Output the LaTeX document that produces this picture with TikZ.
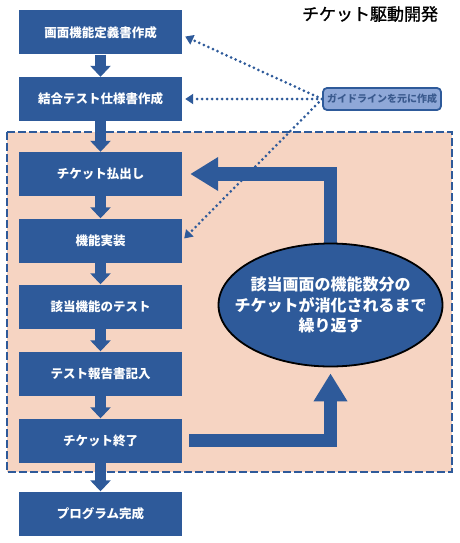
\documentclass[tikz,border=0pt]{standalone}
\usepackage{fontspec}
\setmainfont{Noto Sans CJK JP}
\newfontfamily\titlefont{Noto Sans CJK JP}[FakeBold=1.2]
\usetikzlibrary{arrows.meta,shapes.geometric,backgrounds}
\definecolor{bblue}{HTML}{2E5A9A}
\definecolor{peach}{HTML}{F6D4C2}
\definecolor{gfill}{HTML}{8FA8D8}
\definecolor{gtext}{HTML}{3A5A8E}
\begin{document}
\begin{tikzpicture}[x=1pt,y=-1pt,
  box/.style={fill=bblue, draw=none, minimum width=163pt, minimum height=44pt, inner sep=0pt, text=white, font=\bfseries\fontsize{12.5}{15}\selectfont},
  flow/.style={draw=bblue, line width=11pt, -{Triangle[width=20pt,length=11pt]}},
  big/.style={draw=bblue, line width=13.5pt, line join=miter, -{Triangle[width=32pt,length=28pt]}},
  guideline/.style={draw=bblue, line width=3pt, line cap=round, dash pattern=on 0pt off 5pt, -{Triangle[width=10pt,length=8pt]}},
  region/.style={fill=peach, draw=bblue, line width=2.8pt, dash pattern=on 8pt off 3pt}]
\useasboundingbox (0,0) rectangle (460,543);
% title
\node[font=\titlefont\fontsize{17}{20}\selectfont, text=black] (title) at (370,14) {チケット駆動開発};
% boxes
\node[box] (b1) at (100.5,32.5) {画面機能定義書作成};
\node[box] (b2) at (100.5,99) {結合テスト仕様書作成};
\node[box] (b3) at (100.5,174) {チケット払出し};
\node[box] (b4) at (100.5,240.5) {機能実装};
\node[box] (b5) at (100.5,306.5) {該当機能のテスト};
\node[box] (b6) at (100.5,373.5) {テスト報告書記入};
\node[box] (b7) at (100.5,440.5) {チケット終了};
\node[box] (b8) at (100.5,513.5) {プログラム完成};
% ellipse
\node[ellipse, fill=bblue, draw=black, line width=1.8pt, minimum width=224pt, minimum height=123pt, inner sep=0pt] (ell) at (330.5,305) {};
\node[text=white, align=center, inner sep=0pt, font=\bfseries\fontsize{16}{20.5}\selectfont] (elltext) at (ell.center) {該当画面の機能数分の\\チケットが消化されるまで\\繰り返す};
% guide box
\node[draw=bblue, line width=1.8pt, fill=gfill, rounded corners=4pt, minimum width=118pt, minimum height=22pt, inner sep=0pt, text=gtext, font=\bfseries\fontsize{10}{12}\selectfont] (g) at (382,99) {ガイドラインを元に作成};
\begin{pgfonlayer}{background}
  \fill[white] (0,0) rectangle (460,543);
  \draw[region] (7,132) rectangle (452,472);
  \draw[big] ([yshift=-6pt]ell.north) |- ([xshift=8pt]b3.east);
  \draw[big] ([xshift=7pt]b7.east) -| ([yshift=-6pt]ell.south);
  \draw[flow] (b1.south) -- (b2.north);
  \draw[flow] (b2.south) -- (b3.north);
  \draw[flow] (b3.south) -- (b4.north);
  \draw[flow] (b4.south) -- (b5.north);
  \draw[flow] (b5.south) -- (b6.north);
  \draw[flow] (b6.south) -- (b7.north);
  \draw[flow] (b7.south) -- (b8.north);
\end{pgfonlayer}
% dotted guide arrows
\draw[guideline] (g.west) -- ([xshift=3pt,yshift=-4pt]b1.east);
\draw[guideline] (g.west) -- ([xshift=3pt]b2.east);
\draw[guideline] (g.west) -- ([xshift=2pt,yshift=2pt]b4.east);
\end{tikzpicture}
\end{document}
